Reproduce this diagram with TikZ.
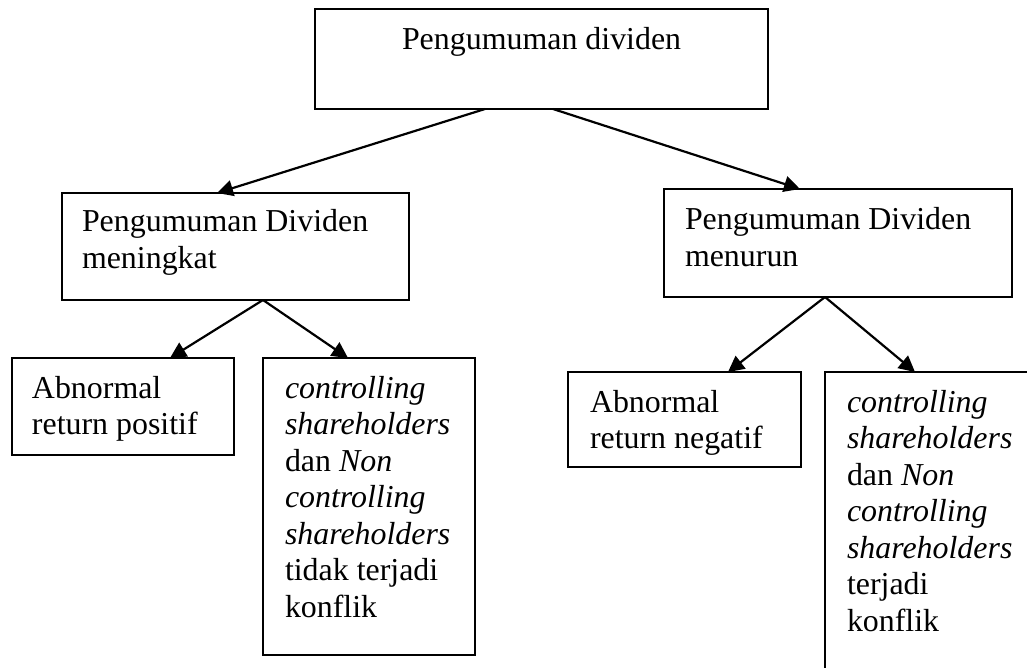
\documentclass[tikz,border=0pt]{standalone}
\usepackage{fontspec}
\setmainfont{Liberation Serif}
\usetikzlibrary{arrows.meta,calc}
\tikzset{
  box/.style={draw, line width=0.85pt, inner sep=0pt, outer sep=0pt, anchor=north west, rectangle},
  label/.style={anchor=base west, inner sep=0pt, outer sep=0pt, font=\fontsize{15.95pt}{18.25pt}\selectfont},
  conn/.style={line width=1.1pt, -{Triangle[length=8pt,width=8pt]}}
}
\begin{document}
\begin{tikzpicture}[x=0.5pt,y=-0.5pt]
\clip (0,0) rectangle (1027,668);
\fill[white] (0,0) rectangle (1027,668);
% boxes
\node[box, minimum width=226.5pt, minimum height=50pt] (top) at (315,9) {};
\node[box, minimum width=173.5pt, minimum height=53.5pt] (m1) at (62,193) {};
\node[box, minimum width=174pt, minimum height=54pt] (m2) at (664,189) {};
\node[box, minimum width=111pt, minimum height=48.5pt] (b1) at (12,358) {};
\node[box, minimum width=106pt, minimum height=148.5pt] (b2) at (263,358) {};
\node[box, minimum width=116.5pt, minimum height=47.5pt] (b3) at (568,372) {};
\node[box, minimum width=107.5pt, minimum height=164pt] (b4) at (825,372) {};
% texts
\node[label] (ttop) at (402,50) {Pengumuman dividen};
\node[label] (tm1) at (82,232) {\vtop{\hbox{Pengumuman Dividen}\hbox{meningkat}}};
\node[label] (tm2) at (685,230) {\vtop{\hbox{Pengumuman Dividen}\hbox{menurun}}};
\node[label] (tb1) at (32,398) {\vtop{\hbox{Abnormal}\hbox{return positif}}};
\node[label] (tb2) at (285,398) {\vtop{\hbox{\itshape controlling}\hbox{\itshape shareholders}\hbox{dan \textit{Non}}\hbox{\itshape controlling}\hbox{\itshape shareholders}\hbox{tidak terjadi}\hbox{konflik}}};
\node[label] (tb3) at (590,412) {\vtop{\hbox{Abnormal}\hbox{return negatif}}};
\node[label] (tb4) at (847,412) {\vtop{\hbox{\itshape controlling}\hbox{\itshape shareholders}\hbox{dan \textit{Non}}\hbox{\itshape controlling}\hbox{\itshape shareholders}\hbox{terjadi}\hbox{konflik}}};
% connectors
\draw[conn] ($(top.south west)+(170,0)$) -- ($(m1.north west)+(155,0)$);
\draw[conn] ($(top.south west)+(238,0)$) -- ($(m2.north west)+(136,0)$);
\draw[conn] ($(m1.south west)+(201,0)$) -- ($(b1.north west)+(158,0)$);
\draw[conn] ($(m1.south west)+(201,0)$) -- ($(b2.north west)+(85,0)$);
\draw[conn] ($(m2.south west)+(161,0)$) -- ($(b3.north west)+(160,0)$);
\draw[conn] ($(m2.south west)+(161,0)$) -- ($(b4.north west)+(90,0)$);
\end{tikzpicture}
\end{document}
